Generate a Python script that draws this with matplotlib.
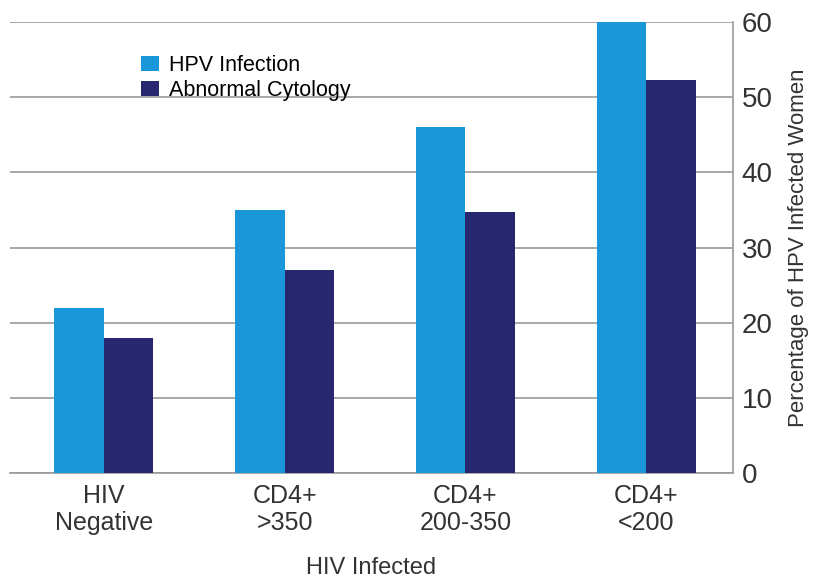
import matplotlib
matplotlib.use("Agg")
import matplotlib.pyplot as plt
import numpy as np

plt.rcParams["font.family"] = ["Liberation Sans", "DejaVu Sans"]

categories = ["HIV\nNegative", "CD4+\n>350", "CD4+\n200-350", "CD4+\n<200"]
hpv_infection = [22, 35, 46, 60]
abnormal_cytology = [18, 27, 34.7, 52.3]
y_ticks = [0, 10, 20, 30, 40, 50, 60]

fig = plt.figure(figsize=(8.2, 5.8), dpi=100)
ax = fig.add_axes([0.012, 0.184, 0.882, 0.778])

x = np.arange(len(categories))
w = 0.274
ax.bar(x - w / 2, hpv_infection, w, color="#1a97d8", label="HPV Infection", zorder=3)
ax.bar(x + w / 2, abnormal_cytology, w, color="#27276f", label="Abnormal Cytology", zorder=3)

ax.set_ylim(0, 60)
ax.set_xlim(-0.52, 3.48)
ax.set_yticks(y_ticks)
ax.yaxis.tick_right()
ax.yaxis.set_label_position("right")
ax.tick_params(axis="y", length=0, labelsize=20, colors="#333333", pad=6)
ax.tick_params(axis="x", length=0, labelsize=18, colors="#333333", pad=8)
ax.set_xticks(x)
ax.set_xticklabels(categories, linespacing=1.15)
ax.grid(axis="y", color="#999999", linewidth=1.2, zorder=0)

for side in ["left", "top"]:
    ax.spines[side].set_visible(False)
for side in ["right", "bottom"]:
    ax.spines[side].set_color("#999999")
    ax.spines[side].set_linewidth(1.2)

ax.set_ylabel("Percentage of HPV Infected Women", fontsize=16, color="#333333",
              va="center")
ax.yaxis.set_label_coords(1.09, 0.5)
ax.set_xlabel("HIV Infected", fontsize=17, color="#333333", labelpad=16)

ax.legend(loc="upper left", bbox_to_anchor=(0.155, 0.97), frameon=False,
          fontsize=15.5, handlelength=0.8, handleheight=0.7, handletextpad=0.5,
          labelspacing=0.2)

plt.savefig("out.png", dpi=100)
